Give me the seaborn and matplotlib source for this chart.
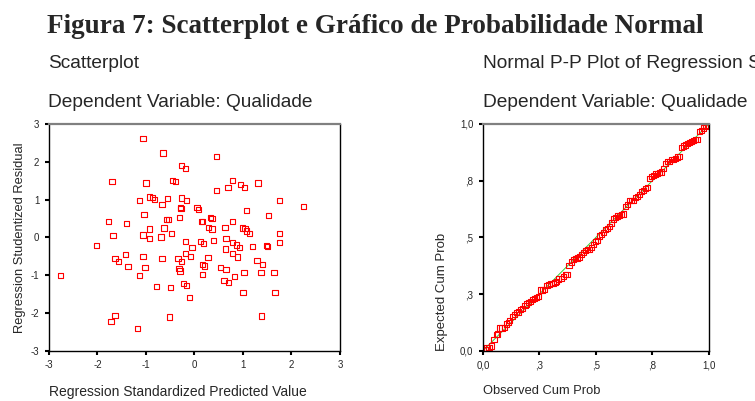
import numpy as np
import pandas as pd
import seaborn as sns
import matplotlib.pyplot as plt

# Scatterplot: standardized predicted value vs studentized residual
pred_value = [-2.76, -2.02, -1.78, -1.70, -1.68, -1.72, -1.64, -1.64, -1.56, -1.43,
              -1.40, -1.37, -1.18, -1.14, -1.14, -1.06, -1.06, -1.06, -1.04, -1.02,
              -1.00, -0.93, -0.92, -0.93, -0.87, -0.83, -0.79, -0.69, -0.67, -0.67,
              -0.65, -0.63, -0.58, -0.54, -0.55, -0.51, -0.49, -0.47, -0.45, -0.39,
              -0.34, -0.32, -0.30, -0.31, -0.29, -0.28, -0.27, -0.27, -0.27, -0.23,
              -0.19, -0.19, -0.19, -0.17, -0.17, -0.11, -0.09, -0.05, 0.05, 0.09,
              0.12, 0.14, 0.16, 0.16, 0.16, 0.19, 0.20, 0.28, 0.29, 0.33,
              0.36, 0.36, 0.39, 0.45, 0.45, 0.53, 0.61, 0.63, 0.64, 0.65,
              0.65, 0.69, 0.70, 0.78, 0.78, 0.78, 0.79, 0.83, 0.87, 0.89,
              0.92, 0.95, 0.99, 1.00, 1.02, 1.03, 1.04, 1.07, 1.08, 1.14,
              1.20, 1.29, 1.31, 1.37, 1.38, 1.41, 1.49, 1.51, 1.53, 1.64,
              1.66, 1.75, 1.76, 1.76, 2.24]
stud_resid = [-1.01, -0.21, 0.42, 1.48, 0.04, -2.22, -2.06, -0.56, -0.63, -0.45,
              0.37, -0.78, -2.41, -1.01, 0.98, 2.62, 0.06, -0.50, 0.61, -0.80,
              1.44, 1.07, 0.22, -0.04, 1.05, 1.01, -1.30, 0.01, 0.86, -0.56,
              2.23, 0.25, 0.48, 0.47, 1.02, -2.11, -1.32, 0.11, 1.51, 1.47,
              -0.56, -0.83, -0.89, 0.53, 0.79, 0.77, 1.04, -0.64, 1.90, -1.22,
              -0.42, 1.83, -0.11, 0.98, -1.28, -1.59, -0.50, -0.26, 0.79, 0.74,
              -0.11, 0.42, 0.41, -0.99, -0.71, -0.17, -0.76, -0.53, 0.26, 0.53,
              0.50, 0.22, -0.09, 2.13, 1.24, -0.79, -1.15, 0.27, -0.31, -0.04,
              -0.86, 1.32, -1.19, 0.43, -0.13, -0.42, 1.51, -1.04, -0.20, -0.52,
              -0.26, 1.39, 0.25, -1.45, -0.92, 1.32, 0.23, 0.17, 0.71, 0.10,
              -0.24, -0.61, 1.44, -0.94, -2.08, -0.71, -0.21, -0.24, 0.58, -0.92,
              -1.47, -0.13, 0.98, 0.11, 0.81]

# Normal P-P plot
obs_cum = [0.004, 0.012, 0.018, 0.027, 0.038, 0.049, 0.059, 0.066, 0.074, 0.084,
           0.094, 0.103, 0.112, 0.119, 0.130, 0.139, 0.147, 0.156, 0.165, 0.174,
           0.186, 0.193, 0.202, 0.211, 0.218, 0.227, 0.236, 0.245, 0.255, 0.264,
           0.274, 0.283, 0.292, 0.301, 0.310, 0.319, 0.327, 0.336, 0.347, 0.355,
           0.364, 0.372, 0.381, 0.391, 0.400, 0.409, 0.417, 0.426, 0.435, 0.444,
           0.453, 0.462, 0.470, 0.479, 0.488, 0.497, 0.506, 0.515, 0.524, 0.532,
           0.541, 0.550, 0.559, 0.568, 0.577, 0.586, 0.594, 0.603, 0.612, 0.621,
           0.630, 0.639, 0.647, 0.656, 0.665, 0.674, 0.683, 0.692, 0.701, 0.709,
           0.718, 0.727, 0.736, 0.745, 0.754, 0.763, 0.771, 0.780, 0.789, 0.798,
           0.807, 0.816, 0.824, 0.833, 0.842, 0.851, 0.860, 0.869, 0.878, 0.886,
           0.895, 0.904, 0.913, 0.922, 0.931, 0.940, 0.948, 0.957, 0.966, 0.975,
           0.984, 0.993]
exp_cum = [0.003, 0.007, 0.012, 0.015, 0.021, 0.050, 0.071, 0.074, 0.100, 0.100,
           0.102, 0.118, 0.125, 0.133, 0.152, 0.161, 0.167, 0.171, 0.181, 0.186,
           0.198, 0.206, 0.211, 0.217, 0.227, 0.232, 0.236, 0.240, 0.268, 0.268,
           0.271, 0.286, 0.291, 0.295, 0.298, 0.301, 0.307, 0.316, 0.320, 0.329,
           0.336, 0.335, 0.375, 0.391, 0.404, 0.407, 0.409, 0.413, 0.425, 0.434,
           0.441, 0.445, 0.448, 0.456, 0.468, 0.482, 0.487, 0.506, 0.513, 0.522,
           0.535, 0.538, 0.547, 0.563, 0.581, 0.587, 0.594, 0.597, 0.602, 0.603,
           0.636, 0.645, 0.661, 0.661, 0.664, 0.675, 0.681, 0.690, 0.701, 0.706,
           0.715, 0.720, 0.760, 0.770, 0.774, 0.779, 0.782, 0.786, 0.788, 0.802,
           0.827, 0.835, 0.836, 0.842, 0.845, 0.848, 0.854, 0.857, 0.895, 0.903,
           0.907, 0.913, 0.917, 0.922, 0.926, 0.931, 0.932, 0.968, 0.973, 0.982,
           0.988, 0.994]
ref_line = [0.0, 1.0]

scatter_ticks = [-3, -2, -1, 0, 1, 2, 3]
pp_ticks = [0.0, 0.25, 0.5, 0.75, 1.0]
pp_labels = ["0,0", ",3", ",5", ",8", "1,0"]

sns.set_style("ticks")
plt.rcParams["font.family"] = ["Liberation Sans", "DejaVu Sans"]
plt.rcParams["axes.unicode_minus"] = False

fig = plt.figure(figsize=(7.55, 4.01), dpi=100)
ax1 = fig.add_axes([0.0649, 0.1254, 0.3854, 0.5654])
ax2 = fig.add_axes([0.6397, 0.1254, 0.2993, 0.5654])

df1 = pd.DataFrame({"pred": pred_value, "resid": stud_resid})
sns.scatterplot(data=df1, x="pred", y="resid", ax=ax1, marker="s", s=14,
                facecolors="none", edgecolor="red", linewidth=0.8)
ax1.set_xlim(-3, 3)
ax1.set_ylim(-3, 3)
ax1.set_xticks(scatter_ticks)
ax1.set_yticks(scatter_ticks)

df2 = pd.DataFrame({"obs": obs_cum, "exp": exp_cum})
ax2.plot(ref_line, ref_line, color="#33cc33", lw=0.7, zorder=1)
sns.scatterplot(data=df2, x="obs", y="exp", ax=ax2, marker="s", s=14,
                facecolors="none", edgecolor="red", linewidth=0.8, zorder=2)
ax2.set_xlim(0, 1)
ax2.set_ylim(0, 1)
ax2.set_xticks(pp_ticks)
ax2.set_xticklabels(pp_labels)
ax2.set_yticks(pp_ticks)
ax2.set_yticklabels(pp_labels)

for ax in (ax1, ax2):
    ax.tick_params(labelsize=7, length=3, width=1.5, color="black", pad=4)
    for side in ("left", "bottom", "right"):
        ax.spines[side].set_color("black")
        ax.spines[side].set_linewidth(1.0)
    ax.spines["top"].set_color("#808080")
    ax.spines["top"].set_linewidth(1.6)

ax1.set_xlabel("Regression Standardized Predicted Value", fontsize=10, loc="left")
ax1.set_ylabel("Regression Studentized Residual", fontsize=9.3)
ax1.xaxis.set_label_coords(0.0, -0.15)
ax1.yaxis.set_label_coords(-0.08, 0.5)
ax2.set_xlabel("Observed Cum Prob", fontsize=9.3, loc="left")
ax2.set_ylabel("Expected Cum Prob", fontsize=9.5, loc="bottom")
ax2.xaxis.set_label_coords(0.0, -0.15)
ax2.yaxis.set_label_coords(-0.155, 0.0)

fig.text(0.062, 1 - 33 / 401, "Figura 7: Scatterplot e Gráfico de Probabilidade Normal",
         family="Liberation Serif", fontweight="bold", fontsize=19.5, va="baseline")
fig.text(0.064, 1 - 68 / 401, "Scatterplot", fontsize=13.8, va="baseline")
fig.text(0.064, 1 - 107 / 401, "Dependent Variable: Qualidade", fontsize=13.8, va="baseline")
fig.text(0.6397, 1 - 68 / 401, "Normal P-P Plot of Regression Standardized Residual",
         fontsize=13.8, va="baseline")
fig.text(0.6397, 1 - 107 / 401, "Dependent Variable: Qualidade", fontsize=13.8, va="baseline")

fig.savefig("out.png", dpi=100)
